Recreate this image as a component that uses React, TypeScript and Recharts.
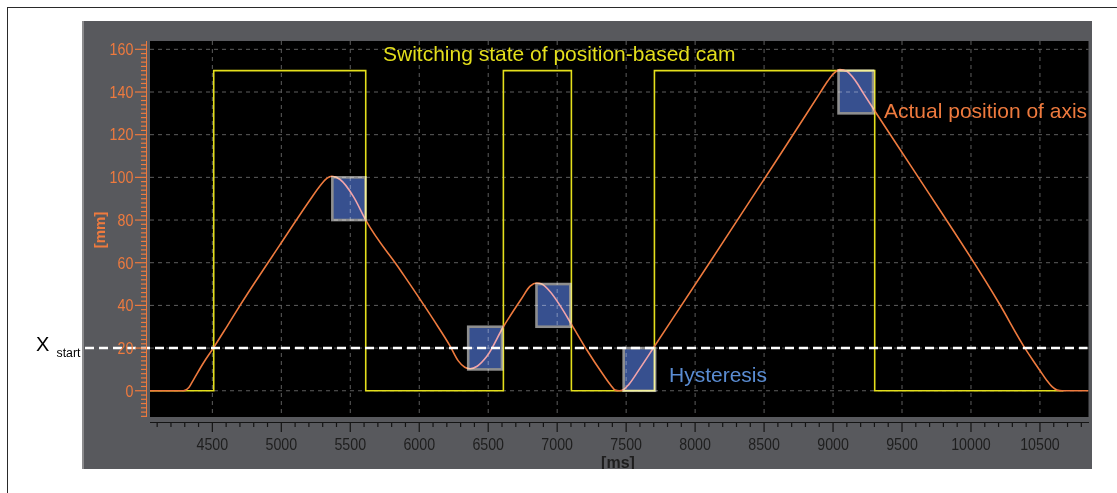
import React from 'react';
import { ComposedChart, Line, XAxis, YAxis, CartesianGrid, ReferenceArea, ReferenceLine } from 'recharts';

// Actual position of axis [mm] over time [ms]
const positionTimes = [4048, 4290, 4330, 4362, 4435, 4507, 4600, 4701, 4991, 5209, 5280, 5330, 5366, 5426, 5523, 5612, 5861, 6103, 6223, 6283, 6330, 6368, 6420, 6489, 6610, 6740, 6804, 6852, 6888, 6948, 7020, 7105, 7214, 7334, 7390, 7420, 7450, 7480, 7520, 7600, 7702, 8120, 8615, 8900, 8960, 9002, 9050, 9099, 9160, 9219, 9304, 9582, 10210, 10391, 10450, 10500, 10550, 10590, 10625, 10660, 10852];
const positionValues = [0, 0, 1.5, 5, 13, 20, 29.5, 40, 68.5, 89.5, 96, 99.5, 100.5, 99, 91, 80, 56.7, 33.3, 21, 14, 11, 10.3, 11.5, 16, 30, 43, 49, 50.5, 50, 46.5, 40, 31, 19.2, 7.5, 2.5, 0.3, 0, 0.5, 3, 10.5, 20.5, 61.5, 110.5, 139, 145, 148.5, 150.5, 149.7, 145.5, 139.5, 131, 103.6, 40.3, 20, 14.2, 9.5, 4.8, 1.8, 0.3, 0, 0];

// Switching state of position-based cam (drawn at 150 when on)
const camTimes = [4048, 4510, 4510, 5612, 5612, 6610, 6610, 7103, 7103, 7705, 7705, 9302, 9302, 10670];
const camValues = [0, 0, 150, 150, 0, 0, 150, 150, 0, 0, 150, 150, 0, 0];

// Hysteresis boxes
const hysteresisStart = [5370, 6355, 6850, 7482, 9040];
const hysteresisEnd = [5610, 6600, 7095, 7710, 9290];
const hysteresisLow = [80, 10, 30, 0, 130];
const hysteresisHigh = [100, 30, 50, 20, 150];

const xStartValue = 20;

const xDomain = [4048, 10852];
const yDomain = [-12.3, 163.9];
const xMajorTicks = [4500, 5000, 5500, 6000, 6500, 7000, 7500, 8000, 8500, 9000, 9500, 10000, 10500];
const yMajorTicks = [0, 20, 40, 60, 80, 100, 120, 140, 160];
const xMinorStep = 100;
const yMinorStep = 2;

const xTicks: number[] = [];
for (let v = 4100; v <= 10800; v += xMinorStep) xTicks.push(v);
const yTicks: number[] = [];
for (let v = -12; v <= 162; v += yMinorStep) yTicks.push(v);

const positionData = positionTimes.map((t, i) => ({ t, v: positionValues[i] }));
const camData = camTimes.map((t, i) => ({ t, v: camValues[i] }));

const FONT = '"Liberation Sans", Arial, Helvetica, sans-serif';
const ORANGE = '#ee7a3e';
const YELLOW = '#e4df1c';

const XTick = (props: any) => {
  const { x, y, payload } = props;
  const v = payload.value;
  const major = xMajorTicks.includes(v);
  return (
    <g>
      <line x1={x} x2={x} y1={y + 5} y2={y + (major ? 15 : 10)} stroke="#141414" strokeWidth={1.2} />
      {major && (
        <text
          transform={`translate(${x},${y + 33}) scale(0.89,1)`}
          textAnchor="middle"
          fontSize={16}
          fontFamily={FONT}
          fill="#1e1e1e"
        >
          {v}
        </text>
      )}
    </g>
  );
};

const YTick = (props: any) => {
  const { x, y, payload } = props;
  const v = payload.value;
  const major = yMajorTicks.includes(v);
  return (
    <g>
      <line x1={x - 4} x2={x - (major ? 15 : 9)} y1={y} y2={y} stroke={ORANGE} strokeWidth={1.2} />
      {major && (
        <text
          transform={`translate(${x - 16.7},${y + 5.8}) scale(0.89,1)`}
          textAnchor="end"
          fontSize={16}
          fontFamily={FONT}
          fill={ORANGE}
        >
          {v}
        </text>
      )}
    </g>
  );
};

const HysteresisBox = (props: any) => {
  const { x, y, width, height } = props;
  return (
    <rect
      x={x}
      y={y}
      width={width}
      height={height}
      fill="#37508f"
      stroke="#8e8e8e"
      strokeWidth={2.6}
      style={{ mixBlendMode: 'screen' }}
    />
  );
};

const XStartLine = (props: any) => {
  const { x1, y1, x2 } = props;
  return <line x1={x1 - 65} x2={x2 - 1} y1={y1} y2={y1} stroke="#ffffff" strokeWidth={2.6} strokeDasharray="9 5" />;
};

export default function App() {
  return (
    <div style={{ position: 'absolute', left: 0, top: 0, width: 1117, height: 493, overflow: 'hidden', background: '#ffffff', fontFamily: FONT }}>
      <div style={{ position: 'absolute', left: 7, top: 7, width: 1300, height: 700, borderTop: '1.3px solid #2a2a2a', borderLeft: '1.3px solid #2a2a2a' }} />
      <div style={{ position: 'absolute', left: 82, top: 21, width: 1010, height: 448, background: '#58595d', overflow: 'hidden' }}>
        <ComposedChart width={1010} height={448} margin={{ top: 20, right: 3.5, bottom: 0, left: 0 }}>
          <CartesianGrid
            fill="#000000"
            stroke="#5e5e5e"
            strokeDasharray="4 4"
            horizontalValues={yMajorTicks}
            verticalValues={xMajorTicks}
          />
          <XAxis
            dataKey="t"
            type="number"
            domain={xDomain}
            allowDataOverflow
            ticks={xTicks}
            interval={0}
            tick={<XTick />}
            tickLine={false}
            axisLine={false}
            tickSize={0}
            tickMargin={0}
            height={52}
          />
          <YAxis
            type="number"
            domain={yDomain}
            allowDataOverflow
            ticks={yTicks}
            interval={0}
            tick={<YTick />}
            tickLine={false}
            axisLine={false}
            tickSize={0}
            tickMargin={0}
            width={68}
          />
          <Line
            data={camData}
            dataKey="v"
            type="linear"
            stroke={YELLOW}
            strokeWidth={1.6}
            dot={false}
            activeDot={false}
            isAnimationActive={false}
            zIndex={400}
          />
          <Line
            data={positionData}
            dataKey="v"
            type="monotone"
            stroke={ORANGE}
            strokeWidth={1.6}
            dot={false}
            activeDot={false}
            isAnimationActive={false}
            zIndex={410}
          />
          <ReferenceLine y={xStartValue} shape={XStartLine} zIndex={450} />
          {hysteresisStart.map((s, i) => (
            <ReferenceArea
              key={i}
              x1={s}
              x2={hysteresisEnd[i]}
              y1={hysteresisLow[i]}
              y2={hysteresisHigh[i]}
              shape={HysteresisBox}
              zIndex={460}
            />
          ))}
        </ComposedChart>
        <div style={{ position: 'absolute', left: 0, top: 0, width: 2, height: 448, background: '#8c8c8e' }} />
        <div style={{ position: 'absolute', left: 63.5, top: 20, width: 1.3, height: 376, background: ORANGE }} />
        <div style={{ position: 'absolute', left: 68, top: 400.5, width: 938.5, height: 1.4, background: '#141414' }} />
      </div>
      <svg width={1117} height={493} style={{ position: 'absolute', left: 0, top: 0, pointerEvents: 'none' }}>
        <defs>
          <clipPath id="panelClip">
            <rect x={82} y={21} width={1010} height={448} />
          </clipPath>
        </defs>
        <text x={383} y={60.5} fontSize={21} fontFamily={FONT} fill={YELLOW}>Switching state of position-based cam</text>
        <text x={884} y={118} fontSize={21} fontFamily={FONT} fill={ORANGE}>Actual position of axis</text>
        <text x={669} y={382} fontSize={21} fontFamily={FONT} fill="#5a8cd2">Hysteresis</text>
        <text x={36} y={351} fontSize={20} fontFamily={FONT} fill="#000000">X</text>
        <text x={56.5} y={357} fontSize={12.3} fontFamily={FONT} fill="#000000">start</text>
        <g clipPath="url(#panelClip)">
          <text
            x={99}
            y={230}
            transform="rotate(-90 99 230)"
            textAnchor="middle"
            dominantBaseline="central"
            fontSize={15}
            fontWeight="bold"
            fontFamily={FONT}
            fill={ORANGE}
          >
            [mm]
          </text>
          <text x={618} y={468} textAnchor="middle" fontSize={16} fontWeight="bold" fontFamily={FONT} fill="#1e1e1e">[ms]</text>
        </g>
      </svg>
    </div>
  );
}
